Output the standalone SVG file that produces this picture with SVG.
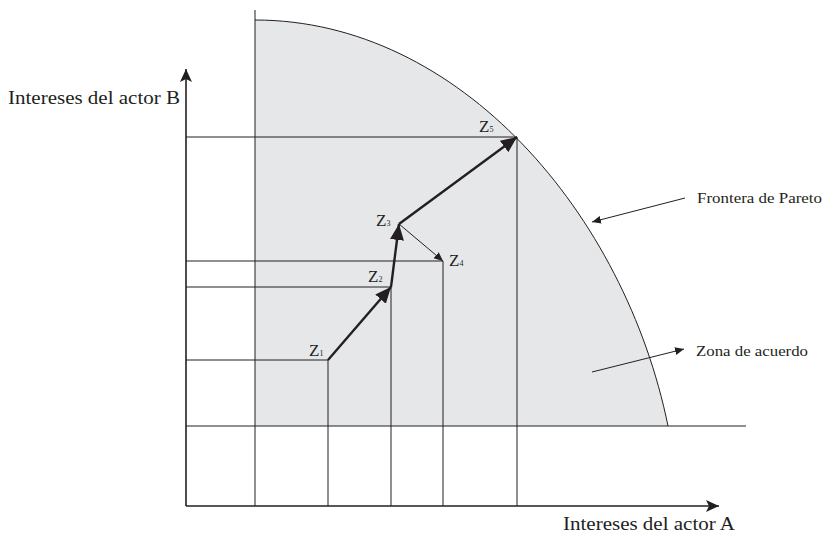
<svg xmlns="http://www.w3.org/2000/svg" width="828" height="534" viewBox="0 0 828 534">
<style>
.grid{stroke:#231f20;stroke-width:1;fill:none}
.axis{stroke:#231f20;stroke-width:1.6;fill:none}
.thick{stroke:#231f20;stroke-width:2.4;fill:none}
.thin{stroke:#231f20;stroke-width:1;fill:none}
.lbl{font-family:"Liberation Serif","Times New Roman",serif;fill:#231f20}
.z{font-family:"Liberation Serif","Times New Roman",serif;fill:#231f20;font-size:17px}
.sub{font-size:8px}
</style>
<defs>
<marker id="big" markerUnits="userSpaceOnUse" markerWidth="20" markerHeight="16" refX="16" refY="7" orient="auto">
<path d="M0,0 L16,7 L0,14 Z" fill="#231f20"/>
</marker>
<marker id="small" markerUnits="userSpaceOnUse" markerWidth="12" markerHeight="10" refX="9" refY="4" orient="auto">
<path d="M0,0 L9,4 L0,8 Z" fill="#231f20"/>
</marker>
<marker id="ax" markerUnits="userSpaceOnUse" markerWidth="16" markerHeight="14" refX="13" refY="6" orient="auto">
<path d="M0,0 L13,6 L0,12 L3,6 Z" fill="#231f20"/>
</marker>
</defs>
<rect width="828" height="534" fill="#ffffff"/>
<g id="zona">
<path d="M255,20 C460,20 625,215 668,426 L255,426 Z" fill="#e6e7e9"/>
<path d="M255,20 C460,20 625,215 668,426" class="grid" stroke-width="1.4"/>
</g>
<g id="grid">
<line class="grid" x1="255" y1="10" x2="255" y2="506"/>
<line class="grid" x1="186" y1="426" x2="746" y2="426"/>
<line class="grid" x1="186" y1="137" x2="517" y2="137"/>
<line class="grid" x1="186" y1="261" x2="443" y2="261"/>
<line class="grid" x1="186" y1="287" x2="391" y2="287"/>
<line class="grid" x1="186" y1="360" x2="328" y2="360"/>
<line class="grid" x1="328" y1="360" x2="328" y2="506"/>
<line class="grid" x1="391" y1="287" x2="391" y2="506"/>
<line class="grid" x1="443" y1="261" x2="443" y2="506"/>
<line class="grid" x1="517" y1="137" x2="517" y2="506"/>
</g>
<g id="axes">
<line class="axis" x1="186" y1="506" x2="186" y2="69" marker-end="url(#ax)"/>
<line class="axis" x1="186" y1="506" x2="719" y2="506" marker-end="url(#ax)"/>
</g>
<g id="connectors">
<line class="thick" x1="328" y1="360" x2="391" y2="287" marker-end="url(#big)"/>
<line class="thick" x1="391" y1="287" x2="399" y2="224" marker-end="url(#big)"/>
<line class="thick" x1="399" y1="224" x2="517" y2="137" marker-end="url(#big)"/>
<line class="thin" x1="399" y1="224" x2="443" y2="261" marker-end="url(#small)"/>
<line class="thin" x1="685" y1="198" x2="592" y2="222" marker-end="url(#small)"/>
<line class="thin" x1="592" y1="372" x2="684" y2="349" marker-end="url(#small)"/>
</g>
<g id="Z1"><text class="z" x="309" y="356">Z<tspan class="sub">1</tspan></text></g>
<g id="Z2"><text class="z" x="368" y="282">Z<tspan class="sub">2</tspan></text></g>
<g id="Z3"><text class="z" x="376" y="226">Z<tspan class="sub">3</tspan></text></g>
<g id="Z4"><text class="z" x="449" y="266">Z<tspan class="sub">4</tspan></text></g>
<g id="Z5"><text class="z" x="479" y="132">Z<tspan class="sub">5</tspan></text></g>
<g id="label-B"><text class="lbl" x="8" y="104" font-size="19" textLength="172" lengthAdjust="spacingAndGlyphs">Intereses del actor B</text></g>
<g id="label-A"><text class="lbl" x="563" y="530" font-size="19" textLength="172" lengthAdjust="spacingAndGlyphs">Intereses del actor A</text></g>
<g id="label-frontera"><text class="lbl" x="697" y="203" font-size="15" textLength="125" lengthAdjust="spacingAndGlyphs">Frontera de Pareto</text></g>
<g id="label-zona"><text class="lbl" x="696" y="356" font-size="15" textLength="112" lengthAdjust="spacingAndGlyphs">Zona de acuerdo</text></g>
</svg>
